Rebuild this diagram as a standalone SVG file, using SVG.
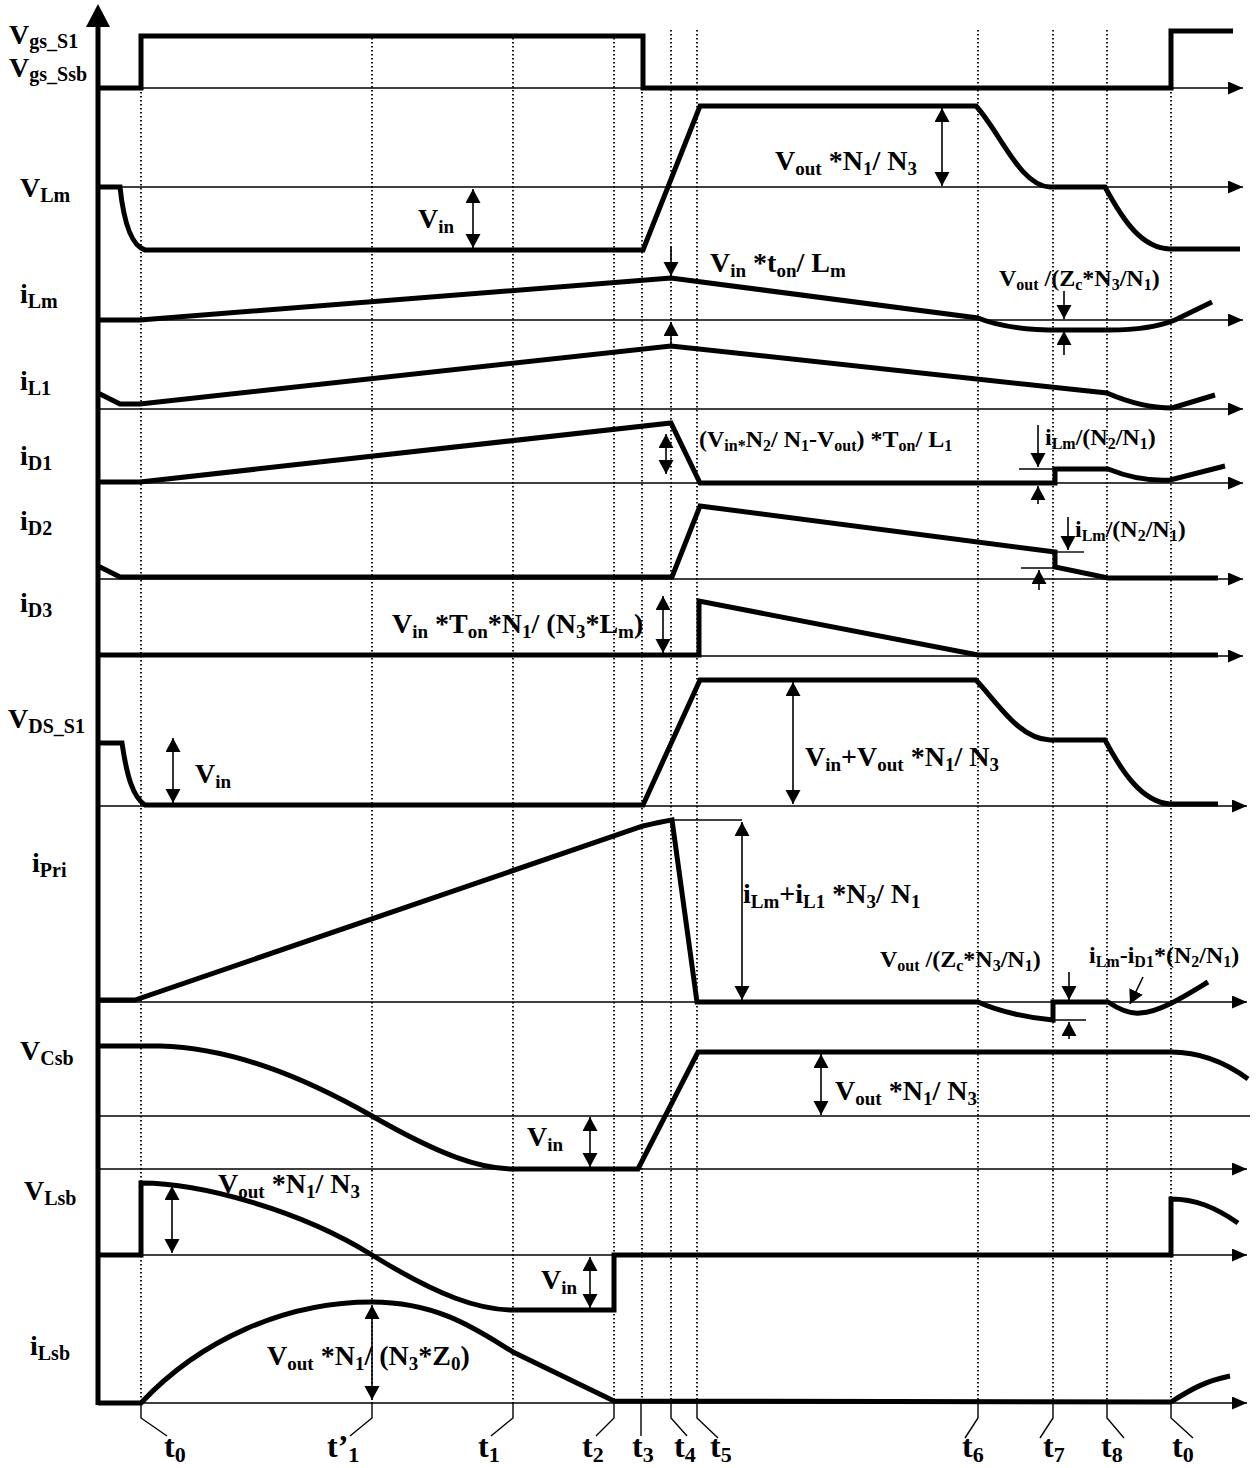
<svg xmlns="http://www.w3.org/2000/svg" width="1257" height="1468" viewBox="0 0 1257 1468">
<defs>
<marker id="ax" markerUnits="userSpaceOnUse" markerWidth="16" markerHeight="14" refX="15" refY="6.5" orient="auto"><path d="M0,0 L15,6.5 L0,13 z" fill="#000"/></marker>
<marker id="ah" markerUnits="userSpaceOnUse" markerWidth="16" markerHeight="16" refX="14" refY="7.5" orient="auto-start-reverse"><path d="M0,0 L14,7.5 L0,15 z" fill="#000"/></marker>
<style>
.w{fill:none;stroke:#000;stroke-width:5;stroke-linejoin:miter}
.a{fill:none;stroke:#000;stroke-width:1.6}
.d{fill:none;stroke:#000;stroke-width:1.8;stroke-dasharray:1.6 2.4}
.k{fill:none;stroke:#000;stroke-width:1.4}
text{font-family:"Liberation Serif","Times New Roman",serif;font-weight:bold;fill:#000}
.l{font-size:28px}.b{font-size:28px}.m{font-size:24px}.t{font-size:32px}
.ls{font-size:20px}.bs{font-size:19px}.ms{font-size:16px}.ts{font-size:22px}
</style>
</defs>
<rect width="1257" height="1468" fill="#fff"/>

<g id="guides">
<line class="d" x1="141" y1="88" x2="141" y2="1403"/>
<line class="d" x1="372" y1="38" x2="372" y2="1403"/>
<line class="d" x1="513" y1="38" x2="513" y2="1403"/>
<line class="d" x1="614" y1="38" x2="614" y2="1403"/>
<line class="d" x1="642" y1="88" x2="642" y2="1403"/>
<line class="d" x1="671" y1="30" x2="671" y2="1403"/>
<line class="d" x1="697" y1="30" x2="697" y2="1403"/>
<line class="d" x1="978" y1="30" x2="978" y2="1403"/>
<line class="d" x1="1053" y1="30" x2="1053" y2="1403"/>
<line class="d" x1="1107" y1="30" x2="1107" y2="1403"/>
<line class="d" x1="1171" y1="88" x2="1171" y2="1403"/>
</g>

<g id="axes">
<line x1="98" y1="1405" x2="98" y2="22" stroke="#000" stroke-width="5"/>
<path d="M98,4 L86,27 L110,27 z" fill="#000"/>
<line class="a" x1="98" y1="88" x2="1243" y2="88" marker-end="url(#ax)"/>
<line class="a" x1="98" y1="187" x2="1243" y2="187" marker-end="url(#ax)"/>
<line class="a" x1="98" y1="320" x2="1243" y2="320" marker-end="url(#ax)"/>
<line class="a" x1="98" y1="409" x2="1243" y2="409" marker-end="url(#ax)"/>
<line class="a" x1="98" y1="483" x2="1243" y2="483" marker-end="url(#ax)"/>
<line class="a" x1="98" y1="579" x2="1243" y2="579" marker-end="url(#ax)"/>
<line class="a" x1="98" y1="656" x2="1243" y2="656" marker-end="url(#ax)"/>
<line class="a" x1="98" y1="806" x2="1247" y2="806" marker-end="url(#ax)"/>
<line class="a" x1="98" y1="1002" x2="1247" y2="1002" marker-end="url(#ax)"/>
<line class="a" x1="98" y1="1116" x2="1250" y2="1116"/>
<line class="a" x1="98" y1="1169" x2="1247" y2="1169" marker-end="url(#ax)"/>
<line class="a" x1="98" y1="1255" x2="1247" y2="1255" marker-end="url(#ax)"/>
<line class="a" x1="98" y1="1403" x2="1247" y2="1403" marker-end="url(#ax)"/>
</g>

<g id="sig-vgs">
<path class="w" d="M98,88 L141,88 L141,36 L643,36 L643,88 L1171,88 L1171,31 L1233,31"/>
<text class="l" x="9" y="44">V<tspan class="ls" dy="4">gs_S1</tspan></text>
<text class="l" x="9" y="77">V<tspan class="ls" dy="4">gs_Ssb</tspan></text>
</g>

<g id="sig-vlm">
<path class="w" d="M98,187 L120,187 C124,225 132,246 145,250 L643,250 L700,106 L976,106 C1000,132 1020,186 1050,187 L1105,187 C1124,222 1142,248 1170,249 L1240,249"/>
<text class="l" x="20" y="197">V<tspan class="ls" dy="5">Lm</tspan></text>
<line class="a" x1="473" y1="189" x2="473" y2="248" marker-start="url(#ah)" marker-end="url(#ah)"/>
<text class="b" x="418" y="228">V<tspan class="bs" dy="5">in</tspan></text>
<line class="a" x1="942" y1="108" x2="942" y2="186" marker-start="url(#ah)" marker-end="url(#ah)"/>
<text class="b" x="775" y="170">V<tspan class="bs" dy="5">out</tspan><tspan dy="-5"> *N</tspan><tspan class="bs" dy="5">1</tspan><tspan dy="-5">/ N</tspan><tspan class="bs" dy="5">3</tspan></text>
</g>

<g id="sig-ilm">
<path class="w" d="M98,320 L140,320 L671,278 L978,318 C1000,327 1025,330 1060,330 L1110,330 C1140,330 1160,326 1175,320 L1212,302"/>
<text class="l" x="20" y="303">i<tspan class="ls" dy="5">Lm</tspan></text>
<line class="a" x1="671" y1="247" x2="671" y2="276" marker-end="url(#ah)"/>
<line class="a" x1="671" y1="346" x2="671" y2="322" marker-end="url(#ah)"/>
<text class="b" x="710" y="272">V<tspan class="bs" dy="5">in</tspan><tspan dy="-5"> *t</tspan><tspan class="bs" dy="5">on</tspan><tspan dy="-5">/ L</tspan><tspan class="bs" dy="5">m</tspan></text>
<line class="a" x1="1064" y1="291" x2="1064" y2="319" marker-end="url(#ah)"/>
<line class="a" x1="1064" y1="355" x2="1064" y2="331" marker-end="url(#ah)"/>
<text class="m" x="999" y="286">V<tspan class="ms" dy="4">out</tspan><tspan dy="-4"> /(Z</tspan><tspan class="ms" dy="4">c</tspan><tspan dy="-4">*N</tspan><tspan class="ms" dy="4">3</tspan><tspan dy="-4">/N</tspan><tspan class="ms" dy="4">1</tspan><tspan dy="-4">)</tspan></text>
</g>

<g id="sig-il1">
<path class="w" d="M98,393 L120,404 L140,404 L671,346 L1107,393 C1130,403 1150,408 1172,408 L1215,395"/>
<text class="l" x="20" y="390">i<tspan class="ls" dy="5">L1</tspan></text>
</g>

<g id="sig-id1">
<path class="w" d="M98,482 L140,482 L671,423 L700,483 L1055,483 L1055,469 L1108,469 C1130,478 1150,481 1170,480 L1225,466"/>
<text class="l" x="20" y="465">i<tspan class="ls" dy="5">D1</tspan></text>
<line class="a" x1="666" y1="434" x2="666" y2="474" marker-start="url(#ah)" marker-end="url(#ah)"/>
<text class="m" x="699" y="447">(V<tspan class="ms" dy="4">in*</tspan><tspan dy="-4">N</tspan><tspan class="ms" dy="4">2</tspan><tspan dy="-4">/ N</tspan><tspan class="ms" dy="4">1</tspan><tspan dy="-4">-V</tspan><tspan class="ms" dy="4">out</tspan><tspan dy="-4">) *T</tspan><tspan class="ms" dy="4">on</tspan><tspan dy="-4">/ L</tspan><tspan class="ms" dy="4">1</tspan></text>
<line class="a" x1="1038" y1="425" x2="1038" y2="467" marker-end="url(#ah)"/>
<line class="k" x1="1019" y1="469" x2="1055" y2="469"/>
<line class="a" x1="1038" y1="504" x2="1038" y2="486" marker-end="url(#ah)"/>
<text class="m" x="1045" y="445">i<tspan class="ms" dy="4">Lm</tspan><tspan dy="-4">/(N</tspan><tspan class="ms" dy="4">2</tspan><tspan dy="-4">/N</tspan><tspan class="ms" dy="4">1</tspan><tspan dy="-4">)</tspan></text>
</g>

<g id="sig-id2">
<path class="w" d="M98,566 L120,577 L672,577 L700,506 L1055,552 L1055,567 L1108,578 L1218,578"/>
<text class="l" x="20" y="530">i<tspan class="ls" dy="5">D2</tspan></text>
<line class="a" x1="1068" y1="517" x2="1068" y2="550" marker-end="url(#ah)"/>
<line class="k" x1="1055" y1="552" x2="1084" y2="552"/>
<line class="k" x1="1021" y1="568" x2="1055" y2="568"/>
<line class="a" x1="1039" y1="590" x2="1039" y2="570" marker-end="url(#ah)"/>
<text class="m" x="1075" y="537">i<tspan class="ms" dy="4">Lm</tspan><tspan dy="-4">/(N</tspan><tspan class="ms" dy="4">2</tspan><tspan dy="-4">/N</tspan><tspan class="ms" dy="4">1</tspan><tspan dy="-4">)</tspan></text>
</g>

<g id="sig-id3">
<path class="w" d="M98,655 L699,655 L699,601 L978,655 L1218,655"/>
<text class="l" x="20" y="612">i<tspan class="ls" dy="5">D3</tspan></text>
<line class="a" x1="663" y1="596" x2="663" y2="653" marker-start="url(#ah)" marker-end="url(#ah)"/>
<text class="b" x="392" y="633">V<tspan class="bs" dy="5">in</tspan><tspan dy="-5"> *T</tspan><tspan class="bs" dy="5">on</tspan><tspan dy="-5">*N</tspan><tspan class="bs" dy="5">1</tspan><tspan dy="-5">/ (N</tspan><tspan class="bs" dy="5">3</tspan><tspan dy="-5">*L</tspan><tspan class="bs" dy="5">m</tspan><tspan dy="-5">)</tspan></text>
</g>

<g id="sig-vds">
<path class="w" d="M100,743 L122,743 C127,777 133,797 145,805 L643,805 L700,680 L976,680 C1000,706 1020,739 1050,740 L1105,740 C1122,772 1142,802 1170,804 L1218,804"/>
<text class="l" x="8" y="728">V<tspan class="ls" dy="5">DS_S1</tspan></text>
<line class="a" x1="173" y1="738" x2="173" y2="803" marker-start="url(#ah)" marker-end="url(#ah)"/>
<text class="b" x="195" y="783">V<tspan class="bs" dy="5">in</tspan></text>
<line class="a" x1="793" y1="682" x2="793" y2="804" marker-start="url(#ah)" marker-end="url(#ah)"/>
<text class="b" x="805" y="766">V<tspan class="bs" dy="5">in</tspan><tspan dy="-5">+V</tspan><tspan class="bs" dy="5">out</tspan><tspan dy="-5"> *N</tspan><tspan class="bs" dy="5">1</tspan><tspan dy="-5">/ N</tspan><tspan class="bs" dy="5">3</tspan></text>
</g>

<g id="sig-ipri">
<path class="w" d="M98,1000 L135,1000 L643,826 Q660,822 672,820 L697,1002 L978,1002 C1000,1012 1030,1018 1053,1020 L1053,1002 L1108,1002 C1120,1010 1130,1014 1140,1013 C1160,1012 1185,996 1208,982"/>
<text class="l" x="32" y="872">i<tspan class="ls" dy="5">Pri</tspan></text>
<line class="k" x1="672" y1="820" x2="742" y2="820"/>
<line class="a" x1="742" y1="822" x2="742" y2="1000" marker-start="url(#ah)" marker-end="url(#ah)"/>
<text class="b" x="743" y="903">i<tspan class="bs" dy="5">Lm</tspan><tspan dy="-5">+i</tspan><tspan class="bs" dy="5">L1</tspan><tspan dy="-5"> *N</tspan><tspan class="bs" dy="5">3</tspan><tspan dy="-5">/ N</tspan><tspan class="bs" dy="5">1</tspan></text>
<line class="a" x1="1069" y1="972" x2="1069" y2="1000" marker-end="url(#ah)"/>
<line class="k" x1="1053" y1="1020" x2="1086" y2="1020"/>
<line class="a" x1="1069" y1="1039" x2="1069" y2="1022" marker-end="url(#ah)"/>
<text class="m" x="880" y="967">V<tspan class="ms" dy="4">out</tspan><tspan dy="-4"> /(Z</tspan><tspan class="ms" dy="4">c</tspan><tspan dy="-4">*N</tspan><tspan class="ms" dy="4">3</tspan><tspan dy="-4">/N</tspan><tspan class="ms" dy="4">1</tspan><tspan dy="-4">)</tspan></text>
<text class="m" x="1089" y="963">i<tspan class="ms" dy="4">Lm</tspan><tspan dy="-4">-i</tspan><tspan class="ms" dy="4">D1</tspan><tspan dy="-4">*(N</tspan><tspan class="ms" dy="4">2</tspan><tspan dy="-4">/N</tspan><tspan class="ms" dy="4">1</tspan><tspan dy="-4">)</tspan></text>
<line class="a" x1="1143" y1="977" x2="1130" y2="1004" marker-end="url(#ah)"/>
</g>

<g id="sig-vcsb">
<path class="w" d="M98,1046 L160,1046 C230,1048 300,1075 372,1116 C440,1155 480,1169 513,1169 L638,1169 L698,1052 L1171,1052 C1200,1052 1225,1062 1248,1079"/>
<text class="l" x="20" y="1060">V<tspan class="ls" dy="5">Csb</tspan></text>
<line class="a" x1="590" y1="1117" x2="590" y2="1167" marker-start="url(#ah)" marker-end="url(#ah)"/>
<text class="b" x="527" y="1146">V<tspan class="bs" dy="5">in</tspan></text>
<line class="a" x1="821" y1="1054" x2="821" y2="1115" marker-start="url(#ah)" marker-end="url(#ah)"/>
<text class="b" x="835" y="1100">V<tspan class="bs" dy="5">out</tspan><tspan dy="-5"> *N</tspan><tspan class="bs" dy="5">1</tspan><tspan dy="-5">/ N</tspan><tspan class="bs" dy="5">3</tspan></text>
</g>

<g id="sig-vlsb">
<path class="w" d="M98,1255 L141,1255 L141,1183 C200,1183 300,1210 372,1255 C440,1297 480,1310 513,1310 L614,1310 L614,1255 L1171,1255 L1171,1199 C1195,1199 1215,1207 1238,1223"/>
<text class="l" x="24" y="1200">V<tspan class="ls" dy="5">Lsb</tspan></text>
<line class="a" x1="172" y1="1186" x2="172" y2="1253" marker-start="url(#ah)" marker-end="url(#ah)"/>
<text class="b" x="218" y="1193">V<tspan class="bs" dy="5">out</tspan><tspan dy="-5"> *N</tspan><tspan class="bs" dy="5">1</tspan><tspan dy="-5">/ N</tspan><tspan class="bs" dy="5">3</tspan></text>
<line class="a" x1="590" y1="1257" x2="590" y2="1308" marker-start="url(#ah)" marker-end="url(#ah)"/>
<text class="b" x="541" y="1289">V<tspan class="bs" dy="5">in</tspan></text>
</g>

<g id="sig-ilsb">
<path class="w" d="M98,1403 L141,1403 C200,1340 285,1302 372,1302 C440,1302 480,1332 513,1352 L614,1401 L1171,1402 C1190,1390 1205,1381 1230,1376"/>
<text class="l" x="30" y="1355">i<tspan class="ls" dy="5">Lsb</tspan></text>
<line class="a" x1="372" y1="1305" x2="372" y2="1400" marker-start="url(#ah)" marker-end="url(#ah)"/>
<text class="b" x="267" y="1365">V<tspan class="bs" dy="5">out</tspan><tspan dy="-5"> *N</tspan><tspan class="bs" dy="5">1</tspan><tspan dy="-5">/ (N</tspan><tspan class="bs" dy="5">3</tspan><tspan dy="-5">*Z</tspan><tspan class="bs" dy="5">0</tspan><tspan dy="-5">)</tspan></text>
</g>

<g id="time-ticks">
<polyline class="k" points="141,1403 141,1418 167,1436"/>
<polyline class="k" points="372,1403 372,1418 350,1436"/>
<polyline class="k" points="513,1403 513,1418 491,1436"/>
<polyline class="k" points="614,1403 614,1418 596,1436"/>
<polyline class="k" points="641,1403 641,1436"/>
<polyline class="k" points="671,1403 671,1418 687,1436"/>
<polyline class="k" points="697,1403 697,1418 718,1438"/>
<polyline class="k" points="978,1403 978,1418 965,1438"/>
<polyline class="k" points="1053,1403 1053,1418 1040,1438"/>
<polyline class="k" points="1107,1403 1107,1418 1124,1438"/>
<polyline class="k" points="1171,1403 1171,1418 1193,1438"/>
<text class="t" x="164" y="1457">t<tspan class="ts" dy="5">0</tspan></text>
<text class="t" x="327" y="1457">t’<tspan class="ts" dy="5">1</tspan></text>
<text class="t" x="478" y="1457">t<tspan class="ts" dy="5">1</tspan></text>
<text class="t" x="582" y="1457">t<tspan class="ts" dy="5">2</tspan></text>
<text class="t" x="632" y="1457">t<tspan class="ts" dy="5">3</tspan></text>
<text class="t" x="674" y="1457">t<tspan class="ts" dy="5">4</tspan></text>
<text class="t" x="710" y="1457">t<tspan class="ts" dy="5">5</tspan></text>
<text class="t" x="962" y="1457">t<tspan class="ts" dy="5">6</tspan></text>
<text class="t" x="1043" y="1457">t<tspan class="ts" dy="5">7</tspan></text>
<text class="t" x="1101" y="1457">t<tspan class="ts" dy="5">8</tspan></text>
<text class="t" x="1172" y="1457">t<tspan class="ts" dy="5">0</tspan></text>
</g>
</svg>
